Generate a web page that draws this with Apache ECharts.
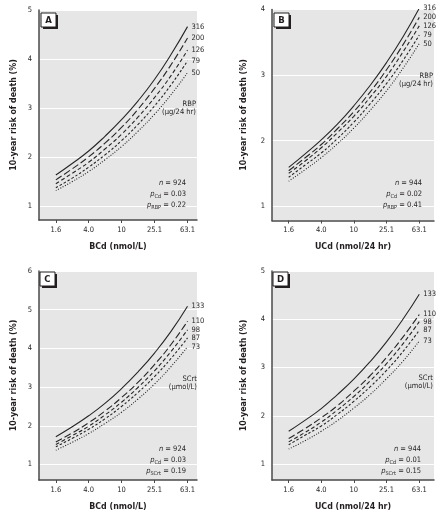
<!DOCTYPE html>
<html><head><meta charset="utf-8">
<script src="https://cdn.jsdelivr.net/npm/echarts@6/dist/echarts.min.js"></script>
<style>html,body{margin:0;padding:0;background:#fff}#c{width:443px;height:512px}</style>
</head><body><div id="c"></div>
<script>
// ---- data ----
const cdValues = [1.6, 2.5, 4.0, 6.3, 10, 15.8, 25.1, 39.8, 63.1];
const xTickValues = [1.6, 4.0, 10, 25.1, 63.1];
const xTickLabels = ['1.6', '4.0', '10', '25.1', '63.1'];
const rbpLevels = ['316', '200', '126', '79', '50'];
const scrtLevels = ['133', '110', '98', '87', '73'];

// Panel A: BCd x RBP
const riskA_316 = [1.63, 1.86, 2.12, 2.42, 2.76, 3.14, 3.58, 4.09, 4.66];
const riskA_200 = [1.53, 1.75, 2.00, 2.28, 2.60, 2.97, 3.40, 3.88, 4.43];
const riskA_126 = [1.45, 1.66, 1.89, 2.16, 2.46, 2.81, 3.21, 3.66, 4.18];
const riskA_79  = [1.37, 1.56, 1.79, 2.04, 2.33, 2.66, 3.04, 3.47, 3.96];
const riskA_50  = [1.31, 1.49, 1.70, 1.94, 2.21, 2.52, 2.87, 3.27, 3.72];
// Panel B: UCd x RBP
const riskB_316 = [1.59, 1.79, 2.01, 2.25, 2.53, 2.84, 3.19, 3.58, 4.02];
const riskB_200 = [1.54, 1.73, 1.94, 2.18, 2.44, 2.74, 3.08, 3.46, 3.88];
const riskB_126 = [1.50, 1.68, 1.89, 2.12, 2.37, 2.66, 2.98, 3.35, 3.75];
const riskB_79  = [1.44, 1.62, 1.81, 2.03, 2.28, 2.56, 2.87, 3.22, 3.61];
const riskB_50  = [1.38, 1.55, 1.74, 1.95, 2.19, 2.46, 2.76, 3.10, 3.48];
// Panel C: BCd x SCrt
const riskC_133 = [1.72, 1.97, 2.26, 2.58, 2.96, 3.39, 3.88, 4.44, 5.09];
const riskC_110 = [1.58, 1.81, 2.08, 2.38, 2.73, 3.12, 3.58, 4.10, 4.70];
const riskC_98  = [1.52, 1.74, 1.99, 2.28, 2.61, 2.99, 3.42, 3.92, 4.48];
const riskC_87  = [1.46, 1.67, 1.91, 2.18, 2.50, 2.86, 3.27, 3.74, 4.27];
const riskC_73  = [1.37, 1.57, 1.80, 2.06, 2.35, 2.69, 3.08, 3.53, 4.04];
// Panel D: UCd x SCrt
const riskD_133 = [1.68, 1.90, 2.15, 2.44, 2.76, 3.12, 3.53, 4.00, 4.52];
const riskD_110 = [1.53, 1.73, 1.96, 2.21, 2.51, 2.83, 3.21, 3.63, 4.10];
const riskD_98  = [1.46, 1.65, 1.87, 2.12, 2.40, 2.72, 3.08, 3.49, 3.95];
const riskD_87  = [1.40, 1.59, 1.79, 2.03, 2.30, 2.60, 2.94, 3.33, 3.77];
const riskD_73  = [1.31, 1.48, 1.68, 1.90, 2.16, 2.44, 2.77, 3.13, 3.55];

// ---- styling ----
const FONT = '"Liberation Sans Narrow", "DejaVu Sans Condensed", "Roboto Condensed", sans-serif';
const INK = '#231f20';
const LINE = '#262626';
const dashes = ['solid', [7, 3], [4, 2.5], [2.5, 2], [1, 1.6]];

const panels = [
  {grid: {left: 39, top: 10, width: 158, height: 210}, xMax: 82.2, yMin: 0.71, yMax: 5,
   xName: 'BCd (nmol/L)', levels: rbpLevels, data: [riskA_316, riskA_200, riskA_126, riskA_79, riskA_50], yGap: 21},
  {grid: {left: 272, top: 9.5, width: 162, height: 211}, xMax: 95.5, yMin: 0.78, yMax: 4,
   xName: 'UCd (nmol/24 hr)', levels: rbpLevels, data: [riskB_316, riskB_200, riskB_126, riskB_79, riskB_50], yGap: 24},
  {grid: {left: 39, top: 271, width: 158, height: 212}, xMax: 82.2, yMin: 0.6, yMax: 6,
   xName: 'BCd (nmol/L)', levels: scrtLevels, data: [riskC_133, riskC_110, riskC_98, riskC_87, riskC_73], yGap: 21},
  {grid: {left: 272, top: 271, width: 162, height: 212}, xMax: 95.5, yMin: 0.67, yMax: 5,
   xName: 'UCd (nmol/24 hr)', levels: scrtLevels, data: [riskD_133, riskD_110, riskD_98, riskD_87, riskD_73], yGap: 24}
];

const grids = [], xAxes = [], yAxes = [], series = [];
panels.forEach((p, i) => {
  grids.push(Object.assign({show: true, backgroundColor: '#e6e6e6', borderWidth: 0}, p.grid));
  xAxes.push({
    type: 'log', gridIndex: i, min: 1, max: p.xMax,
    name: p.xName, nameLocation: 'middle', nameGap: 22,
    nameTextStyle: {fontFamily: FONT, fontWeight: 'bold', fontSize: 8.8, color: INK},
    axisLine: {show: true, lineStyle: {color: '#4a4a4a', width: 1.5}},
    axisTick: {show: true, customValues: xTickValues, length: 3, lineStyle: {color: '#4a4a4a'}},
    axisLabel: {customValues: xTickValues, formatter: v => xTickLabels[xTickValues.indexOf(v)] !== undefined ? xTickLabels[xTickValues.indexOf(v)] : '',
      fontFamily: FONT, fontSize: 7.5, color: INK, margin: 6},
    splitLine: {show: false}, minorTick: {show: false}
  });
  yAxes.push({
    type: 'value', gridIndex: i, min: p.yMin, max: p.yMax, minInterval: 1, maxInterval: 1,
    name: '10-year risk of death (%)', nameLocation: 'middle', nameGap: p.yGap,
    nameTextStyle: {fontFamily: FONT, fontWeight: 'bold', fontSize: 8.8, color: INK},
    axisLine: {show: true, lineStyle: {color: '#4a4a4a', width: 1.5}},
    axisTick: {show: false},
    axisLabel: {showMinLabel: false, fontFamily: FONT, fontSize: 7.5, color: INK, margin: 7},
    splitLine: {show: true, lineStyle: {color: '#ffffff', width: 1}}
  });
  p.data.forEach((vals, k) => {
    series.push({
      type: 'line', name: p.levels[k], xAxisIndex: i, yAxisIndex: i,
      data: cdValues.map((c, j) => [c, vals[j]]),
      smooth: true, showSymbol: false, symbol: 'none', animation: false,
      lineStyle: {color: LINE, width: 1.1, type: dashes[k]},
      endLabel: {show: true, formatter: '{a}', fontFamily: FONT, fontSize: 7.5, color: INK, distance: 4}
    });
  });
});

function txt(x, y, text, extra) {
  return {type: 'text', x: x, y: y, silent: true, z: 100,
    style: Object.assign({text: text, fill: INK, fontFamily: FONT, fontSize: 7.5, align: 'right', verticalAlign: 'middle'}, extra || {})};
}
const rich = {
  i: {fontFamily: FONT, fontSize: 7.5, fontStyle: 'italic', fill: INK},
  s: {fontFamily: FONT, fontSize: 5.5, fill: INK, padding: [4, 0, 0, 0]},
  n: {fontFamily: FONT, fontSize: 7.5, fill: INK}
};
function stats(x, y0, n, pcd, otherName, pother) {
  return [
    txt(x, y0, '{i|n}{n| = ' + n + '}', {rich: rich}),
    txt(x, y0 + 10.8, '{i|p}{s|Cd}{n| = ' + pcd + '}', {rich: rich}),
    txt(x, y0 + 21.6, '{i|p}{s|' + otherName + '}{n| = ' + pother + '}', {rich: rich})
  ];
}
function letterBox(x, y, letter) {
  return [
    {type: 'rect', x: x + 2, y: y + 2, shape: {width: 15, height: 14}, style: {fill: '#231f20'}, z: 100, silent: true},
    {type: 'rect', x: x, y: y, shape: {width: 15, height: 14}, style: {fill: '#ffffff', stroke: '#231f20', lineWidth: 1}, z: 101, silent: true},
    {type: 'text', x: x + 7.5, y: y + 7.5, z: 102, silent: true,
     style: {text: letter, fill: INK, fontFamily: FONT, fontWeight: 'bold', fontSize: 9.5, align: 'center', verticalAlign: 'middle'}}
  ];
}

const graphics = [].concat(
  letterBox(41, 13, 'A'), letterBox(274, 13, 'B'), letterBox(40, 272, 'C'), letterBox(273, 272, 'D'),
  [txt(196, 104, 'RBP'), txt(196, 112.5, '(µg/24 hr)')],
  [txt(433, 76, 'RBP'), txt(433, 84.5, '(µg/24 hr)')],
  [txt(197, 379, 'SCrt'), txt(197, 387.5, '(µmol/L)')],
  [txt(433, 378, 'SCrt'), txt(433, 386.5, '(µmol/L)')],
  stats(186, 183.5, '924', '0.03', 'RBP', '0.22'),
  stats(422, 183.5, '944', '0.02', 'RBP', '0.41'),
  stats(186, 449.5, '924', '0.03', 'SCrt', '0.19'),
  stats(421, 449.5, '944', '0.01', 'SCrt', '0.15')
);

const chart = echarts.init(document.getElementById('c'), null, {renderer: 'canvas'});
chart.setOption({
  animation: false,
  backgroundColor: '#ffffff',
  grid: grids, xAxis: xAxes, yAxis: yAxes, series: series,
  graphic: graphics
});
</script>
</body></html>
